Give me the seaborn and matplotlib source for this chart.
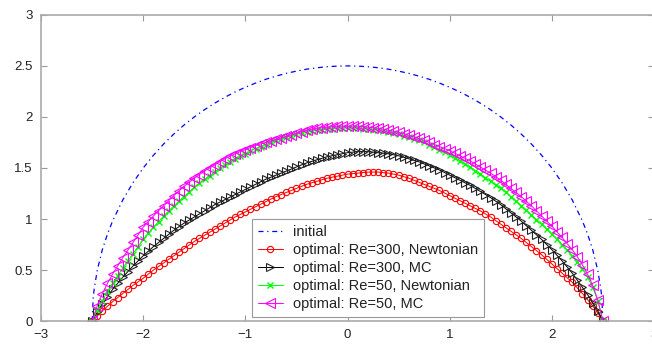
import matplotlib
matplotlib.use("Agg")
import matplotlib.pyplot as plt
import seaborn as sns

# x grid shared by the optimal shapes
x_opt = [-2.5, -2.45, -2.4, -2.35, -2.3, -2.25, -2.2, -2.15, -2.1, -2.05,
         -2.0, -1.95, -1.9, -1.85, -1.8, -1.75, -1.7, -1.65, -1.6, -1.55,
         -1.5, -1.45, -1.4, -1.35, -1.3, -1.25, -1.2, -1.15, -1.1, -1.05,
         -1.0, -0.95, -0.9, -0.85, -0.8, -0.75, -0.7, -0.65, -0.6, -0.55,
         -0.5, -0.45, -0.4, -0.35, -0.3, -0.25, -0.2, -0.15, -0.1, -0.05,
         0.0, 0.05, 0.1, 0.15, 0.2, 0.25, 0.3, 0.35, 0.4, 0.45,
         0.5, 0.55, 0.6, 0.65, 0.7, 0.75, 0.8, 0.85, 0.9, 0.95,
         1.0, 1.05, 1.1, 1.15, 1.2, 1.25, 1.3, 1.35, 1.4, 1.45,
         1.5, 1.55, 1.6, 1.65, 1.7, 1.75, 1.8, 1.85, 1.9, 1.95,
         2.0, 2.05, 2.1, 2.15, 2.2, 2.25, 2.3, 2.35, 2.4, 2.45, 2.5]

re300_newt = [0.0, 0.05, 0.10, 0.145, 0.19, 0.23, 0.27, 0.31, 0.35, 0.385,
              0.42, 0.46, 0.50, 0.535, 0.57, 0.605, 0.64, 0.675, 0.71, 0.745,
              0.78, 0.81, 0.84, 0.87, 0.90, 0.93, 0.96, 0.99, 1.02, 1.045,
              1.07, 1.095, 1.12, 1.145, 1.17, 1.195, 1.22, 1.24, 1.26, 1.28,
              1.30, 1.32, 1.34, 1.355, 1.37, 1.385, 1.40, 1.41, 1.42, 1.43,
              1.44, 1.445, 1.45, 1.455, 1.46, 1.46, 1.46, 1.455, 1.45, 1.44,
              1.43, 1.415, 1.40, 1.38, 1.36, 1.34, 1.32, 1.30, 1.28, 1.255,
              1.23, 1.205, 1.18, 1.155, 1.13, 1.105, 1.08, 1.05, 1.02, 0.985,
              0.95, 0.915, 0.88, 0.845, 0.81, 0.77, 0.73, 0.69, 0.65, 0.605,
              0.56, 0.515, 0.47, 0.425, 0.38, 0.325, 0.27, 0.21, 0.15, 0.08, 0.0]

re300_mc = [0.0, 0.09, 0.17, 0.24, 0.31, 0.37, 0.43, 0.485, 0.54, 0.59,
            0.64, 0.685, 0.73, 0.77, 0.81, 0.85, 0.89, 0.925, 0.96, 0.99,
            1.02, 1.05, 1.08, 1.11, 1.14, 1.165, 1.19, 1.215, 1.24, 1.265,
            1.29, 1.315, 1.34, 1.365, 1.39, 1.41, 1.43, 1.45, 1.47, 1.49,
            1.51, 1.53, 1.55, 1.565, 1.58, 1.595, 1.61, 1.62, 1.63, 1.64,
            1.65, 1.655, 1.66, 1.66, 1.66, 1.655, 1.65, 1.645, 1.64, 1.63,
            1.62, 1.605, 1.59, 1.575, 1.56, 1.54, 1.52, 1.50, 1.48, 1.455,
            1.43, 1.405, 1.38, 1.355, 1.33, 1.30, 1.27, 1.24, 1.21, 1.175,
            1.14, 1.10, 1.06, 1.02, 0.98, 0.935, 0.89, 0.845, 0.80, 0.75,
            0.70, 0.645, 0.59, 0.53, 0.47, 0.40, 0.33, 0.26, 0.18, 0.10, 0.0]

re50_newt = [0.0, 0.11, 0.20, 0.29, 0.37, 0.445, 0.52, 0.59, 0.66, 0.73,
             0.80, 0.86, 0.92, 0.975, 1.03, 1.08, 1.13, 1.175, 1.22, 1.265,
             1.31, 1.35, 1.39, 1.425, 1.46, 1.495, 1.53, 1.56, 1.59, 1.615,
             1.64, 1.665, 1.69, 1.71, 1.73, 1.75, 1.77, 1.785, 1.80, 1.815,
             1.83, 1.84, 1.85, 1.86, 1.87, 1.875, 1.88, 1.885, 1.89, 1.89,
             1.89, 1.89, 1.89, 1.885, 1.88, 1.875, 1.87, 1.86, 1.85, 1.84,
             1.83, 1.815, 1.80, 1.785, 1.77, 1.75, 1.73, 1.705, 1.68, 1.655,
             1.63, 1.60, 1.57, 1.54, 1.51, 1.475, 1.44, 1.405, 1.37, 1.335,
             1.30, 1.26, 1.22, 1.175, 1.13, 1.085, 1.04, 0.995, 0.95, 0.90,
             0.85, 0.80, 0.75, 0.695, 0.64, 0.58, 0.51, 0.43, 0.33, 0.20, 0.0]

re50_mc = [0.0, 0.15, 0.27, 0.37, 0.46, 0.54, 0.62, 0.695, 0.77, 0.845,
           0.92, 0.975, 1.03, 1.08, 1.13, 1.18, 1.23, 1.275, 1.32, 1.36,
           1.40, 1.435, 1.47, 1.50, 1.53, 1.56, 1.59, 1.615, 1.64, 1.66,
           1.68, 1.70, 1.72, 1.735, 1.75, 1.765, 1.78, 1.795, 1.81, 1.825,
           1.84, 1.855, 1.87, 1.88, 1.89, 1.895, 1.90, 1.905, 1.91, 1.91,
           1.91, 1.91, 1.91, 1.905, 1.90, 1.895, 1.89, 1.88, 1.87, 1.86,
           1.85, 1.835, 1.82, 1.805, 1.79, 1.77, 1.75, 1.73, 1.71, 1.69,
           1.67, 1.645, 1.62, 1.595, 1.57, 1.54, 1.51, 1.48, 1.45, 1.415,
           1.38, 1.34, 1.30, 1.26, 1.22, 1.175, 1.13, 1.08, 1.03, 0.98,
           0.93, 0.875, 0.82, 0.76, 0.70, 0.63, 0.55, 0.46, 0.35, 0.21, 0.0]

# initial shape (half circle, r = 2.5)
x_init = [-2.5, -2.49, -2.48, -2.45, -2.4, -2.35, -2.3, -2.2, -2.1, -2.0, -1.9,
          -1.8, -1.7, -1.6, -1.5, -1.4, -1.3, -1.2, -1.1, -1.0, -0.9, -0.8,
          -0.7, -0.6, -0.5, -0.4, -0.3, -0.2, -0.1, 0.0, 0.1, 0.2, 0.3, 0.4,
          0.5, 0.6, 0.7, 0.8, 0.9, 1.0, 1.1, 1.2, 1.3, 1.4, 1.5, 1.6, 1.7,
          1.8, 1.9, 2.0, 2.1, 2.2, 2.3, 2.35, 2.4, 2.45, 2.48, 2.49, 2.5]
y_init = [0.0, 0.223, 0.316, 0.497, 0.700, 0.853, 0.980, 1.187, 1.356, 1.500, 1.625,
          1.735, 1.833, 1.921, 2.000, 2.071, 2.135, 2.193, 2.245, 2.291, 2.332, 2.369,
          2.400, 2.427, 2.449, 2.468, 2.482, 2.492, 2.498, 2.500, 2.498, 2.492, 2.482, 2.468,
          2.449, 2.427, 2.400, 2.369, 2.332, 2.291, 2.245, 2.193, 2.135, 2.071, 2.000, 1.921, 1.833,
          1.735, 1.625, 1.500, 1.356, 1.187, 0.980, 0.853, 0.700, 0.497, 0.316, 0.223, 0.0]

sns.set_style("ticks")
plt.rcParams["font.family"] = ["Liberation Sans", "DejaVu Sans"]

fig = plt.figure(figsize=(6.52, 3.46), dpi=100)
ax = fig.add_axes([0.063, 0.072, 0.94, 0.885])

sns.lineplot(x=x_init, y=y_init, color="blue", lw=0.9, ls=(0, (4, 3, 1, 3)),
             label="initial", ax=ax)
sns.lineplot(x=x_opt, y=re300_newt, color="red", lw=0.7, marker="o", ms=4.5,
             mfc="none", mec="red", mew=0.8,
             label="optimal: Re=300, Newtonian", ax=ax)
sns.lineplot(x=x_opt, y=re300_mc, color="black", lw=0.7, marker=">", ms=6,
             mfc="none", mec="#222222", mew=0.8,
             label="optimal: Re=300, MC", ax=ax)
sns.lineplot(x=x_opt, y=re50_newt, color="lime", lw=0.7, marker="x", ms=5,
             mec="lime", mew=1.0,
             label="optimal: Re=50, Newtonian", ax=ax)
sns.lineplot(x=x_opt, y=re50_mc, color="magenta", lw=0.7, marker="<", ms=6.5,
             mfc="none", mec="magenta", mew=0.8,
             label="optimal: Re=50, MC", ax=ax)

ax.set_xlim(-3, 3)
ax.set_ylim(0, 3)
ax.set_xticks([-3, -2, -1, 0, 1, 2, 3])
ax.set_yticks([0, 0.5, 1, 1.5, 2, 2.5, 3])
ax.set_yticklabels(["0", "0.5", "1", "1.5", "2", "2.5", "3"])
ax.tick_params(direction="in", top=True, right=True, length=4, width=0.8,
               color="#999999", labelsize=9.5, labelcolor="#222222", pad=6)
for sp in ax.spines.values():
    sp.set_color("#aaaaaa")
    sp.set_linewidth(1.2)

leg = ax.legend(loc="lower left", bbox_to_anchor=(0.344, 0.013), fontsize=10.5,
                frameon=True, fancybox=False, framealpha=1, edgecolor="#999999",
                handlelength=1.7, handletextpad=0.7, labelspacing=0.28,
                borderpad=0.4, borderaxespad=0)
leg.get_frame().set_linewidth(0.8)
for t in leg.get_texts():
    t.set_color("#222222")

fig.savefig("out.png", dpi=100)
